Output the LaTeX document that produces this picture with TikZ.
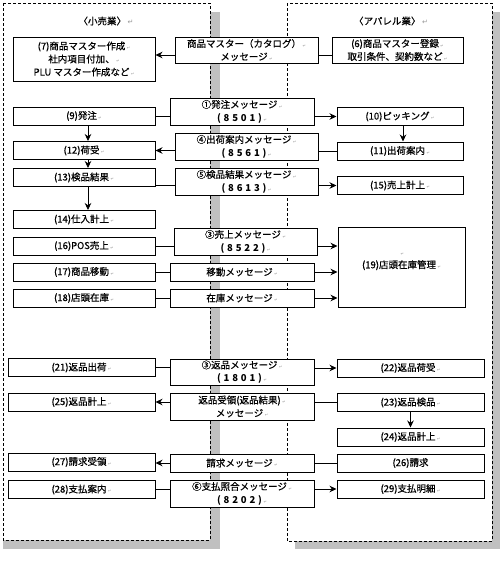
\documentclass[tikz,border=0pt]{standalone}
\usepackage{fontspec}
\setmainfont{Noto Sans CJK JP}[UprightFeatures={FakeBold=0.5}]
\newfontfamily\markfont{DejaVu Sans}
\usepackage{xcolor}
\definecolor{shadowgray}{RGB}{192,192,192}
\definecolor{markgray}{RGB}{150,150,150}
\usepackage{tikz}
\usetikzlibrary{
    arrows.meta
}
\tikzstyle{box} = [
    draw,
    fill=white,
    line width=1pt,
    inner sep=0pt,
    align=center,
    font=\fontsize{9.5}{13}\selectfont
]
\tikzstyle{lbox} = [box, minimum width=142pt, minimum height=18pt]
\tikzstyle{mbox} = [box, minimum width=144pt, minimum height=27pt]
\tikzstyle{rbox} = [box, minimum width=126pt, minimum height=18pt]
\tikzstyle{arrow} = [
    line width=0.8pt,
    -{Stealth[length=7pt, width=6.5pt]}
]
\tikzstyle{link} = [line width=0.8pt]
\tikzstyle{frame} = [line width=0.8pt, dash pattern=on 3pt off 2pt]
\newcommand{\retmark}[1][4]{\,{\markfont\fontsize{#1}{#1}\selectfont\color{markgray}↵}}
\newcommand{\msgno}[1]{{\bfseries\addfontfeature{LetterSpace=30}#1}}

\begin{document}
\begin{tikzpicture}[x=1pt, y=-1pt]
\useasboundingbox (0,0) rectangle (500,573);

% Schatten und Rahmen
\fill[shadowgray] (210,12) rectangle (220,549);
\fill[shadowgray] (3,540) rectangle (220,549);
\fill[shadowgray] (492,12) rectangle (500,549);
\fill[shadowgray] (295,541) rectangle (500,549);
\draw[frame] (3,3) rectangle (210,540);
\draw[frame] (287,3) rectangle (492,541);

% Ueberschriften
\node[font=\fontsize{9.5}{13}\selectfont] (hdRetail) at (106,21) {〈小売業〉\retmark[7]};
\node[font=\fontsize{9.5}{13}\selectfont] (hdApparel) at (391,21) {〈アパレル業〉\retmark[7]};

% Kaestchen Einzelhandel
\node[lbox, minimum height=44pt] (n7) at (84,59) {(7)商品マスター作成\retmark\\社内項目付加、\retmark\\PLU マスター作成など\retmark};
\node[lbox] (n9) at (84,116) {(9)発注\retmark};
\node[lbox] (n12) at (84,150.5) {(12)荷受\retmark};
\node[lbox] (n13) at (84,177.5) {(13)検品結果\retmark};
\node[lbox] (n14) at (84,219.5) {(14)仕入計上\retmark};
\node[lbox] (n16) at (84,246) {(16)POS売上\retmark};
\node[lbox] (n17) at (84,272) {(17)商品移動\retmark};
\node[lbox] (n18) at (84,298) {(18)店頭在庫\retmark};
\node[lbox, minimum width=147pt] (n21) at (81.5,367.5) {(21)返品出荷\retmark};
\node[lbox, minimum width=147pt] (n25) at (81.5,402) {(25)返品計上\retmark};
\node[lbox, minimum width=147pt] (n27) at (81.5,462) {(27)請求受領\retmark};
\node[lbox, minimum width=147pt] (n28) at (81.5,489.5) {(28)支払案内\retmark};

% Nachrichten
\node[mbox, minimum width=143pt, minimum height=26pt] (mMaster) at (246.5,50) {商品マスター（カタログ）\retmark\\メッセージ\retmark};
\node[mbox] (mOrder) at (242,111.5) {①発注メッセージ\retmark\\\msgno{(8501)}\retmark};
\node[mbox, minimum width=143pt] (mShip) at (246.5,146.5) {④出荷案内メッセージ\retmark\\\msgno{(8561)}\retmark};
\node[mbox, minimum width=143pt] (mCheck) at (246.5,181.5) {⑤検品結果メッセージ\retmark\\\msgno{(8613)}\retmark};
\node[mbox, minimum width=143pt] (mSales) at (245.5,241.5) {③売上メッセージ\retmark\\\msgno{(8522)}\retmark};
\node[mbox, minimum height=18pt] (mMove) at (242,272) {移動メッセージ\retmark};
\node[mbox, minimum height=18pt] (mStock) at (242,298) {在庫メッセージ\retmark};
\node[mbox, minimum height=26pt] (mReturn) at (242,372) {③返品メッセージ\retmark\\\msgno{(1801)}\retmark};
\node[mbox] (mRecv) at (242,406.5) {返品受領(返品結果)\retmark\\メッセージ\retmark};
\node[mbox, minimum height=18pt] (mBill) at (242,463) {請求メッセージ\retmark};
\node[mbox] (mPay) at (242,493.5) {⑥支払照合メッセージ\retmark\\\msgno{(8202)}\retmark};

% Kaestchen Bekleidung
\node[rbox, minimum width=131pt, minimum height=26pt] (n6) at (397.5,50) {(6)商品マスター登録\retmark\\取引条件、契約数など\retmark};
\node[rbox] (n10) at (400,116.5) {(10)ピッキング\retmark};
\node[rbox] (n11) at (400,151) {(11)出荷案内\retmark};
\node[rbox] (n15) at (400,185.5) {(15)売上計上\retmark};
\node[rbox, minimum width=127pt, minimum height=80pt] (n19) at (401.5,267) {\retmark\\(19)店頭在庫管理\retmark\\\mbox{}};
\node[rbox, minimum width=147pt] (n22) at (410.5,368) {(22)返品荷受\retmark};
\node[rbox, minimum width=147pt] (n23) at (410.5,402.5) {(23)返品検品\retmark};
\node[rbox, minimum width=147pt] (n24) at (410.5,437) {(24)返品計上\retmark};
\node[rbox, minimum width=147pt] (n26) at (410.5,463) {(26)請求};
\node[rbox, minimum width=147pt] (n29) at (410.5,489) {(29)支払明細\retmark};

% Stammdaten
\draw[arrow] ([yshift=-5pt]mMaster.west) -- ([yshift=-5pt]mMaster.west -| n7.east);
\draw[link] ([yshift=-5pt]mMaster.east) -- ([yshift=-5pt]mMaster.east -| n6.west);

% Bestellung und Lieferung
\draw[link] (n9.east) -- (n9 -| mOrder.west);
\draw[arrow] (mOrder.east |- n10) -- (n10.west);
\draw[arrow] ([xshift=4pt]n9.south) -- ([xshift=4pt]n12.north);
\draw[arrow] ([xshift=3pt]n10.south) -- ([xshift=3pt]n11.north);
\draw[link] (n11.west) -- (n11 -| mShip.east);
\draw[arrow] (mShip.west |- n12) -- (n12.east);
\draw[arrow] ([xshift=4pt]n12.south) -- ([xshift=4pt]n13.north);
\draw[arrow] ([xshift=4pt]n13.south) -- ([xshift=4pt]n14.north);
\draw[link] (n13.east |- n15) -- (mCheck.west |- n15);
\draw[arrow] (mCheck.east |- n15) -- (n15.west);

% Verkauf und Bestand
\draw[link] (n16.east) -- (n16 -| mSales.west);
\draw[arrow] (mSales.east |- n16) -- (n16 -| n19.west);
\draw[link] (n17.east) -- (mMove.west);
\draw[arrow] (mMove.east) -- (mMove -| n19.west);
\draw[link] (n18.east) -- (mStock.west);
\draw[arrow] (mStock.east) -- (mStock -| n19.west);

% Retouren
\draw[link] (n21.east) -- (n21 -| mReturn.west);
\draw[arrow] (mReturn.east |- n22) -- (n22.west);
\draw[link] (n23.west) -- (n23 -| mRecv.east);
\draw[arrow] (mRecv.west |- n25) -- (n25.east);
\draw[arrow] (n23.south) -- (n24.north);

% Abrechnung
\draw[link] (n26.west) -- (n26 -| mBill.east);
\draw[arrow] (mBill.west) -- (mBill -| n27.east);
\draw[link] (n28.east) -- (n28 -| mPay.west);
\draw[arrow] (mPay.east |- n29) -- (n29.west);

\end{tikzpicture}
\end{document}
